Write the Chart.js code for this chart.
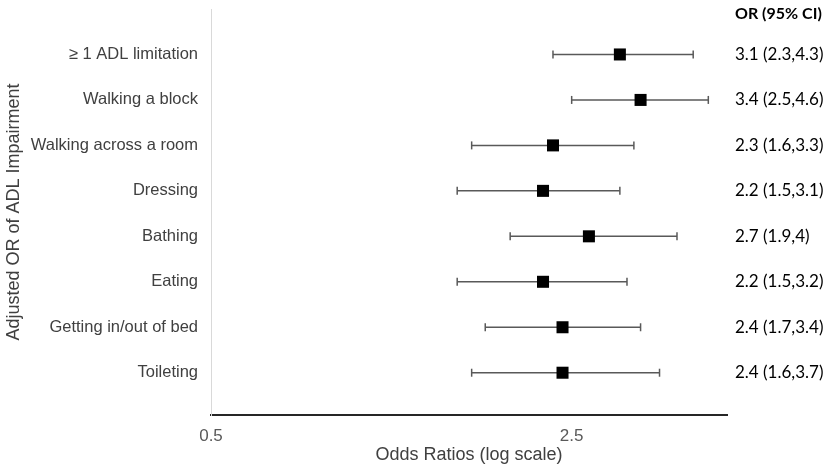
<!DOCTYPE html>
<html>
<head>
<meta charset="utf-8">
<script src="https://cdn.jsdelivr.net/npm/chart.js@4.4.1/dist/chart.umd.min.js"></script>
<style>
  html, body { margin: 0; padding: 0; background: #ffffff; }
  #wrap { width: 829px; height: 476px; }
</style>
</head>
<body>
<div id="wrap"><canvas id="c" width="829" height="476"></canvas></div>
<script>
// ---- data ----
const categories = ['≥ 1 ADL limitation', 'Walking a block', 'Walking across a room', 'Dressing', 'Bathing', 'Eating', 'Getting in/out of bed', 'Toileting'];
const oddsRatios = [3.1, 3.4, 2.3, 2.2, 2.7, 2.2, 2.4, 2.4];
const ciLower = [2.3, 2.5, 1.6, 1.5, 1.9, 1.5, 1.7, 1.6];
const ciUpper = [4.3, 4.6, 3.3, 3.1, 4.0, 3.2, 3.4, 3.7];
const xTickValues = [0.5, 2.5];
const columnHeader = 'OR (95% CI)';
const xTitle = 'Odds Ratios (log scale)';
const yTitle = 'Adjusted OR of ADL Impairment';

const orText = oddsRatios.map((v, i) => `${v} (${ciLower[i]},${ciUpper[i]})`);
const rowTicks = categories.map((_, i) => i + 1);
const HEADER_ROW = 0.1;

const pointData = oddsRatios.map((v, i) => ({ x: v, y: i + 1 }));
const errorSets = categories.map((_, i) => ({
  type: 'scatter',
  showLine: true,
  data: [{ x: ciLower[i], y: i + 1 }, { x: ciUpper[i], y: i + 1 }],
  borderColor: '#595959',
  borderWidth: 1.5,
  pointStyle: 'line',
  pointRotation: 90,
  pointRadius: 4,
  pointBorderColor: '#595959',
  pointBorderWidth: 1.5,
  order: 2
}));

const LEFT = 211, RIGHT = 727, TOP = 9, BOTTOM = 415, W = 829, H = 476;

new Chart(document.getElementById('c'), {
  type: 'scatter',
  data: {
    datasets: [{
      data: pointData,
      pointStyle: 'rect',
      pointRadius: 8.5,
      pointBackgroundColor: '#000000',
      pointBorderWidth: 0,
      order: 1
    }].concat(errorSets)
  },
  options: {
    responsive: false,
    animation: false,
    events: [],
    layout: { padding: { left: 0, right: 0, top: TOP, bottom: 0 } },
    plugins: { legend: { display: false }, tooltip: { enabled: false } },
    scales: {
      x: {
        type: 'logarithmic',
        min: 0.5,
        max: 5,
        position: 'bottom',
        afterBuildTicks: s => { s.ticks = xTickValues.map(v => ({ value: v })); },
        afterFit: s => { s.height = H - BOTTOM; s.paddingLeft = 0; s.paddingRight = 0; },
        grid: { display: false, drawTicks: false },
        border: { display: true, color: '#262626', width: 2 },
        ticks: {
          callback: v => String(v),
          maxRotation: 0,
          autoSkip: false,
          padding: 11,
          color: '#595959',
          font: { family: 'Liberation Sans, Arial, sans-serif', size: 17 }
        },
        title: {
          display: true,
          text: xTitle,
          color: '#404040',
          padding: { top: 0, bottom: 10 },
          font: { family: 'Liberation Sans, Arial, sans-serif', size: 18 }
        }
      },
      y: {
        type: 'linear',
        position: 'left',
        reverse: true,
        min: 0,
        max: 8.93,
        afterBuildTicks: s => { s.ticks = rowTicks.map(v => ({ value: v })); },
        afterFit: s => { s.width = LEFT; s.paddingTop = 0; s.paddingBottom = 0; },
        grid: { display: false, drawTicks: false },
        border: { display: true, color: '#d9d9d9', width: 1 },
        ticks: {
          callback: v => categories[v - 1],
          autoSkip: false,
          padding: 13,
          color: '#404040',
          font: { family: 'Liberation Sans, Arial, sans-serif', size: 16.5 }
        },
        title: {
          display: true,
          text: yTitle,
          color: '#404040',
          padding: { top: 3, bottom: 0 },
          font: { family: 'Liberation Sans, Arial, sans-serif', size: 18 }
        }
      },
      y2: {
        type: 'linear',
        position: 'right',
        reverse: true,
        min: 0,
        max: 8.93,
        afterBuildTicks: s => { s.ticks = [HEADER_ROW].concat(rowTicks).map(v => ({ value: v })); },
        afterFit: s => { s.width = W - RIGHT; s.paddingTop = 0; s.paddingBottom = 0; },
        grid: { display: false, drawTicks: false },
        border: { display: false },
        ticks: {
          callback: v => (v === HEADER_ROW ? columnHeader : orText[v - 1]),
          autoSkip: false,
          padding: 8,
          color: '#000000',
          font: ctx => {
            const head = ctx.tick && ctx.tick.value === HEADER_ROW;
            return {
              family: 'Lato, Calibri, sans-serif',
              size: head ? 16 : 17,
              weight: head ? 'bold' : 'normal'
            };
          }
        }
      }
    }
  }
});
</script>
</body>
</html>
